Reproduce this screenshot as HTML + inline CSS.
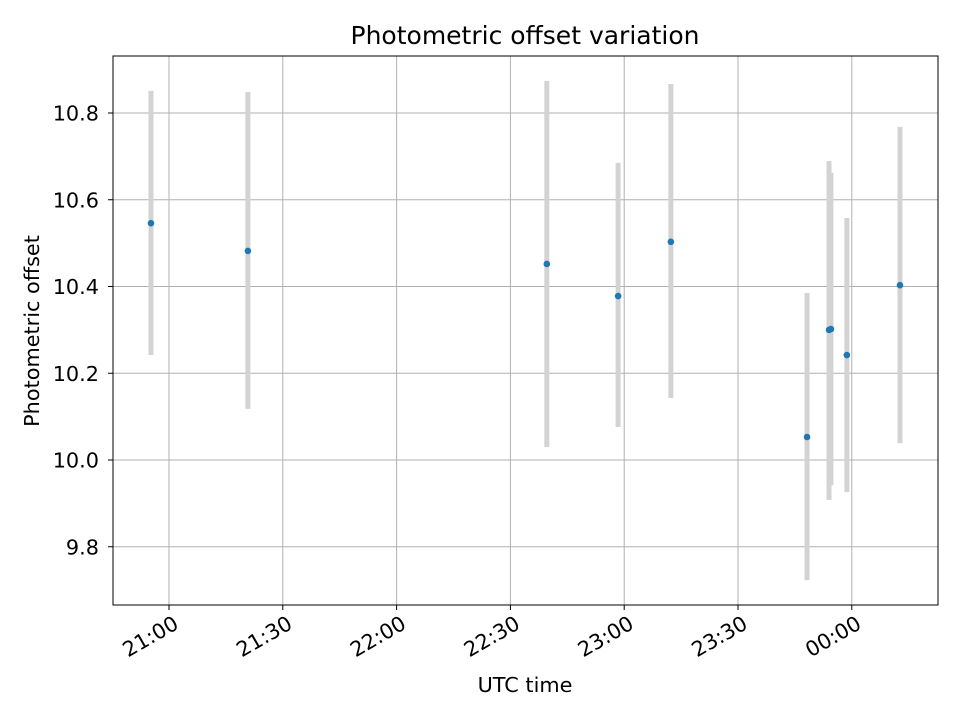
<!DOCTYPE html>
<html><head><meta charset="utf-8"><style>
body{margin:0;background:#fff;}
svg text{font-family:"DejaVu Sans","Liberation Sans",sans-serif;fill:#000;}
</style></head><body>
<svg id="chart" width="960" height="720" xmlns="http://www.w3.org/2000/svg">
<text x="525" y="44" font-size="25px" text-anchor="middle">Photometric offset variation</text>
<text x="525" y="692" font-size="20.8px" text-anchor="middle">UTC time</text>
<text transform="translate(39,331) rotate(-90)" font-size="20.8px" text-anchor="middle">Photometric offset</text>
<g id="grid"></g><g id="marks"></g><g id="axes"></g>
</svg>
<script>
// minutes after 21:00 UTC
const times=[-4.75,20.8,99.6,118.4,132.3,168.2,174.0,174.5,178.7,192.7];
const offsets=[10.546,10.482,10.452,10.378,10.503,10.053,10.300,10.302,10.242,10.403];
const errLow=[10.242,10.118,10.030,10.076,10.143,9.723,9.908,9.942,9.926,10.039];
const errHigh=[10.851,10.848,10.874,10.685,10.867,10.385,10.689,10.662,10.558,10.768];
const xTicks=[0,30,60,90,120,150,180];
const xTickLabels=["21:00","21:30","22:00","22:30","23:00","23:30","00:00"];
const yTicks=[9.8,10.0,10.2,10.4,10.6,10.8];
const yTickLabels=["9.8","10.0","10.2","10.4","10.6","10.8"];

const L=113,R=938,T=56,B=605;
const x=m=>169+m*113.8/30;
const y=v=>460-(v-10)*433.75;
const NS="http://www.w3.org/2000/svg";
function mk(tag,attrs,parent){const e=document.createElementNS(NS,tag);for(const k in attrs)e.setAttribute(k,attrs[k]);document.getElementById(parent).appendChild(e);return e;}
xTicks.forEach((t,i)=>{
  const g=mk('line',{x1:x(t),x2:x(t),y1:T,y2:B,stroke:'#b0b0b0','stroke-width':1},'grid');
  
  const tk=mk('line',{x1:x(t),x2:x(t),y1:B,y2:B+5,stroke:'#000'},'axes');
  
  const tx=mk('text',{transform:`translate(${x(t)+3},${B+9}) rotate(-30)`,'font-size':'20.8px','text-anchor':'end',dy:'0.76em'},'axes');
  tx.textContent=xTickLabels[i];
  
});
yTicks.forEach((t,i)=>{
  const g=mk('line',{x1:L,x2:R,y1:y(t),y2:y(t),stroke:'#b0b0b0','stroke-width':1},'grid');
  
  const tk=mk('line',{x1:L-5,x2:L,y1:y(t),y2:y(t),stroke:'#000'},'axes');
  
  const tx=mk('text',{x:L-14,y:y(t)+7.5,'font-size':'20.8px','text-anchor':'end'},'axes');
  tx.textContent=yTickLabels[i];
  
});
times.forEach((t,i)=>{
  const e=mk('line',{x1:x(t),x2:x(t),y1:y(errHigh[i]),y2:y(errLow[i]),stroke:'#d3d3d3','stroke-width':5},'marks');
  
});
times.forEach((t,i)=>{
  const c=mk('circle',{cx:x(t),cy:y(offsets[i]),r:3.3,fill:'#1f77b4'},'marks');
  
});
const f=mk('rect',{x:L,y:T,width:R-L,height:B-T,fill:'none',stroke:'#000','stroke-width':1},'axes');

</script>
</body></html>
